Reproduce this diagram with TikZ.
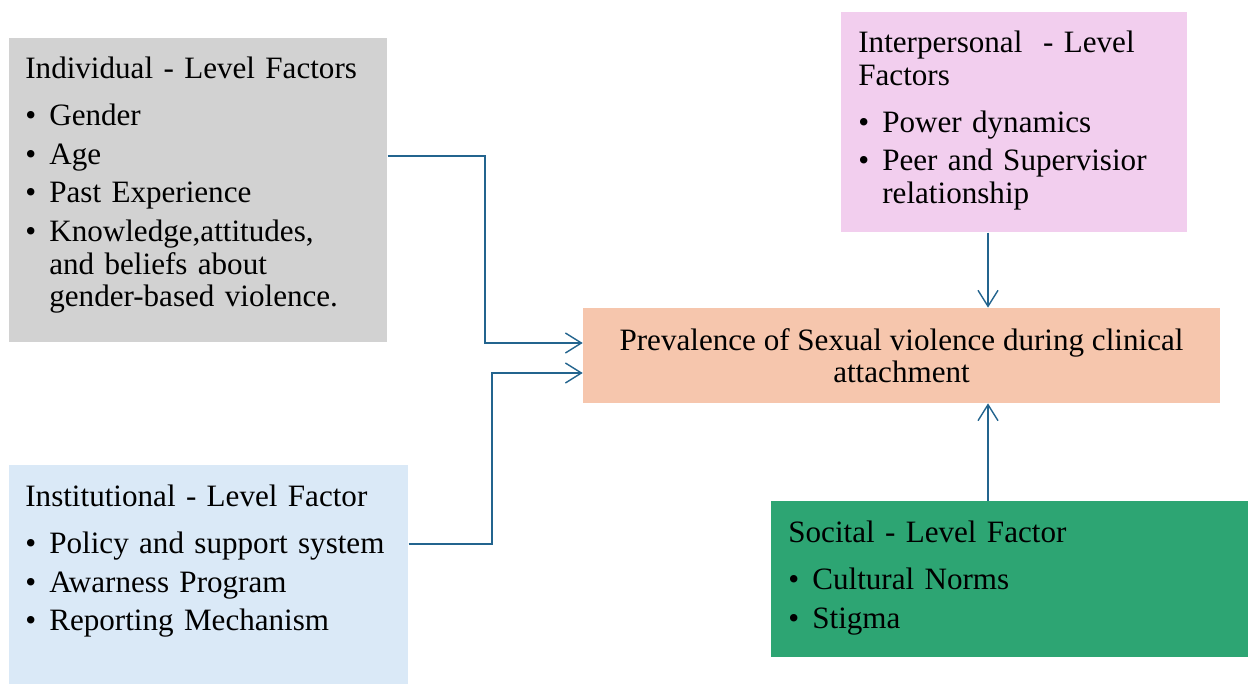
\documentclass[tikz,border=0pt]{standalone}
\usepackage{fontspec}
\setmainfont{Liberation Serif}
\usetikzlibrary{arrows.meta}

\newcommand{\lvlhead}[1]{\noindent#1\par\vspace{4.5pt}}
\newcommand{\bitem}[1]{\par\vspace{3.5pt}\noindent\makebox[0.48cm][l]{\textbullet}#1}
\newcommand{\bcont}[1]{\par\noindent\hspace*{0.48cm}#1}

\begin{document}
\begin{tikzpicture}[x=0.02cm, y=-0.02cm,
  panel/.style={rectangle, inner sep=0pt, anchor=north west},
  paneltext/.style={inner sep=0pt, anchor=base west, text width=9cm, align=left,
    font=\fontsize{17.7}{18.5}\selectfont},
  link/.style={draw=linkBlue, line width=0.8pt, -{Straight Barb[length=3.2mm, width=4mm]}}]
  \definecolor{softGray}{RGB}{210,210,210}
  \definecolor{softPink}{RGB}{242,206,238}
  \definecolor{softPeach}{RGB}{246,198,173}
  \definecolor{softBlue}{RGB}{218,233,247}
  \definecolor{softGreen}{RGB}{45,165,115}
  \definecolor{linkBlue}{RGB}{35,100,142}

  \useasboundingbox (0,0) rectangle (1248,685);

  % boxes
  \node[panel, fill=softGray, minimum width=7.56cm, minimum height=6.08cm] (indiv) at (9,38) {};
  \node[panel, fill=softPink, minimum width=6.92cm, minimum height=4.40cm] (inter) at (841,12) {};
  \node[panel, fill=softBlue, minimum width=7.98cm, minimum height=4.38cm] (inst) at (9,465) {};
  \node[panel, fill=softGreen, minimum width=9.54cm, minimum height=3.12cm] (soc) at (771,501) {};
  \node[rectangle, inner sep=0pt, fill=softPeach, minimum width=12.74cm, minimum height=1.90cm,
    align=center, font=\fontsize{17.7}{18.5}\selectfont] (prev) at (901.5,355.5)
    {Prevalence of Sexual violence during clinical\\attachment};

  % texts
  \node[paneltext] (indivtxt) at (25,79) {\lvlhead{Individual - Level Factors}
    \bitem{Gender}
    \bitem{Age}
    \bitem{Past Experience}
    \bitem{Knowledge,attitudes,}
    \bcont{and beliefs about}
    \bcont{gender-based violence.}};
  \node[paneltext] (intertxt) at (858,53) {\noindent Interpersonal~~- Level\par
    \lvlhead{Factors}
    \bitem{Power dynamics}
    \bitem{Peer and Supervisior}
    \bcont{relationship}};
  \node[paneltext] (insttxt) at (25,507) {\lvlhead{Institutional - Level Factor}
    \bitem{Policy and support system}
    \bitem{Awarness Program}
    \bitem{Reporting Mechanism}};
  \node[paneltext] (soctxt) at (788,543) {\lvlhead{Socital - Level Factor}
    \bitem{Cultural Norms}
    \bitem{Stigma}};

  % connectors
  \draw[link] (indiv.east |- 0,156) -- (485,156) |- (prev.west |- 0,343);
  \draw[link] (inst.east |- 0,544) -- (492,544) |- (prev.west |- 0,373);
  \draw[link] (inter.south -| 988,0) -- (prev.north -| 988,0);
  \draw[link] (soc.north -| 988,0) -- (prev.south -| 988,0);
\end{tikzpicture}
\end{document}
